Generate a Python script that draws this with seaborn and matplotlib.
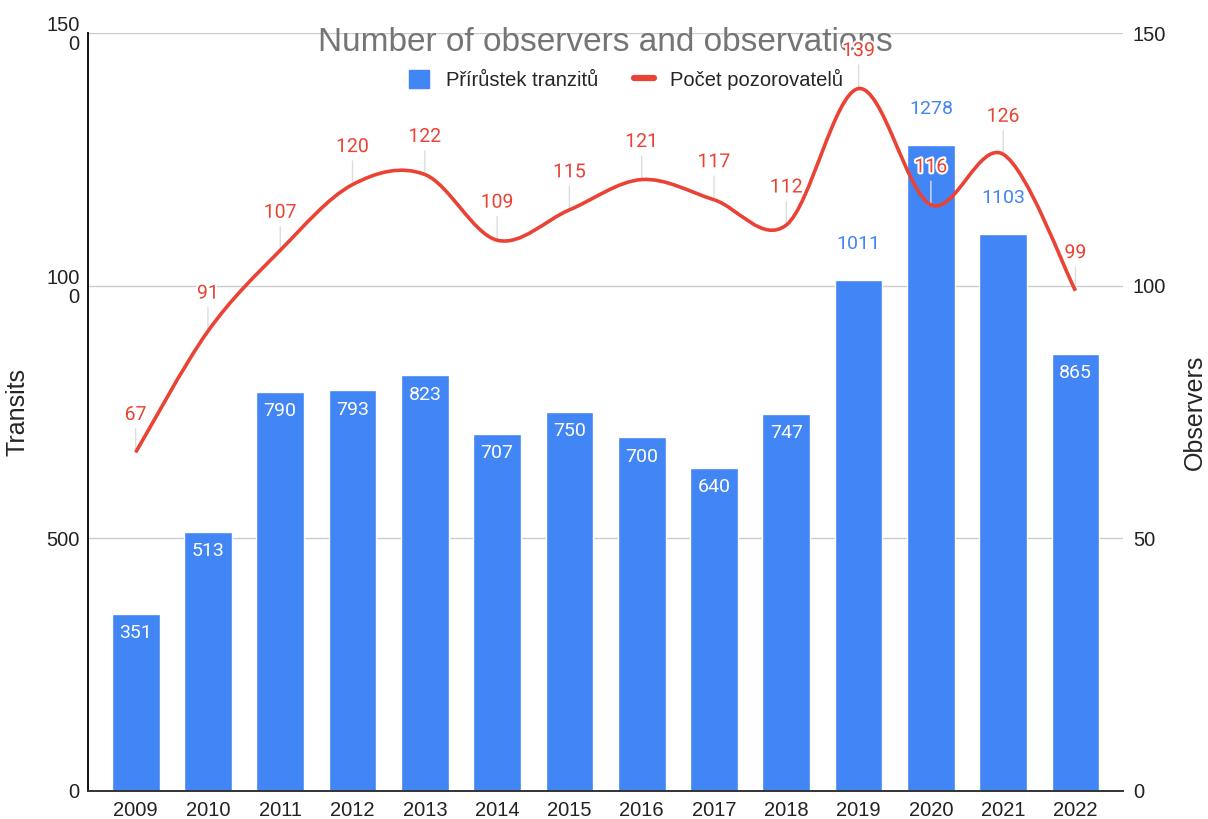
import numpy as np
import matplotlib
matplotlib.use("Agg")
import matplotlib.pyplot as plt
import seaborn as sns
from matplotlib.path import Path
from matplotlib.patches import PathPatch
from matplotlib.lines import Line2D
from matplotlib.patches import Patch
import matplotlib.patheffects as pe

years = ["2009", "2010", "2011", "2012", "2013", "2014", "2015",
         "2016", "2017", "2018", "2019", "2020", "2021", "2022"]
transits = [351, 513, 790, 793, 823, 707, 750, 700, 640, 747, 1011, 1278, 1103, 865]
observers = [67, 91, 107, 120, 122, 109, 115, 121, 117, 112, 139, 116, 126, 99]
left_ticks = [0, 500, 1000, 1500]
left_tick_labels = ["0", "500", "100\n0", "150\n0"]
right_ticks = [0, 50, 100, 150]

BLUE = "#4285F4"
RED = "#EA4335"

sns.set_style("white")
plt.rcParams["font.family"] = ["Liberation Sans", "DejaVu Sans"]

fig = plt.figure(figsize=(12.08, 8.19), dpi=100)
ax = fig.add_axes([0.0728, 0.0342, 0.857, 0.9255])

sns.barplot(x=years, y=transits, color=BLUE, width=0.66, saturation=1, ax=ax, zorder=2)
ax.set_xlim(-0.66, 13.66)
ax.set_ylim(0, 1500)
ax.set_yticks(left_ticks)
ax.set_yticklabels(left_tick_labels, linespacing=1.0)
ax.yaxis.grid(True, color="#cccccc", lw=1)
ax.set_axisbelow(True)
ax.tick_params(axis="both", length=0, labelsize=14.5, colors="#222222", pad=6)
ax.tick_params(axis="x", pad=7)
for s in ["top", "right"]:
    ax.spines[s].set_visible(False)
ax.spines["left"].set_color("#111111")
ax.spines["bottom"].set_color("#333333")
ax.spines["left"].set_linewidth(1.4)
ax.spines["bottom"].set_linewidth(1.4)
ax.set_xlabel("")
ax.set_ylabel("Transits", fontsize=18, labelpad=12)

# bar value labels
for i, v in enumerate(transits):
    if i in (10, 11, 12):
        ax.annotate(str(v), (i, v), xytext=(0, 26), textcoords="offset points",
                    ha="center", va="center", color=BLUE, fontsize=14,
                    family=["Roboto", "DejaVu Sans"])
    else:
        ax.annotate(str(v), (i, v), xytext=(0, -14), textcoords="offset points",
                    ha="center", va="center", color="white", fontsize=14,
                    family=["Roboto", "DejaVu Sans"], zorder=3)

ax2 = ax.twinx()
ax2.set_ylim(0, 150)
ax2.set_yticks(right_ticks)
ax2.tick_params(axis="y", length=0, labelsize=14.5, colors="#222222", pad=7)
for s in ["top", "right", "left", "bottom"]:
    ax2.spines[s].set_visible(False)
ax2.set_ylabel("Observers", fontsize=18, labelpad=12)

# smooth line (Catmull-Rom through data points)
pts = np.column_stack([np.arange(len(observers)), observers]).astype(float)
verts = [pts[0]]
codes = [Path.MOVETO]
n = len(pts)
for i in range(n - 1):
    p0 = pts[i - 1] if i > 0 else pts[i]
    p1 = pts[i]
    p2 = pts[i + 1]
    p3 = pts[i + 2] if i + 2 < n else pts[i + 1]
    c1 = p1 + (p2 - p0) / 6
    c2 = p2 - (p3 - p1) / 6
    verts += [c1, c2, p2]
    codes += [Path.CURVE4] * 3
ax2.add_patch(PathPatch(Path(verts, codes), fill=False, edgecolor=RED, lw=2.6,
                        capstyle="butt", zorder=3))

for i, v in enumerate(observers):
    ax2.annotate("", (i, v), xytext=(0, 17), textcoords="offset points",
                 arrowprops=dict(arrowstyle="-", color="#dddddd", lw=1,
                                 shrinkA=0, shrinkB=0), zorder=1)
    ax2.annotate(str(v), (i, v), xytext=(0, 27), textcoords="offset points",
                 ha="center", va="center", color=RED, fontsize=14,
                 family=["Roboto", "DejaVu Sans"], zorder=4,
                 path_effects=[pe.withStroke(linewidth=3, foreground="white")])

ax2.text(0.5, 0.988, "Number of observers and observations", transform=ax2.transAxes,
         ha="center", va="center", fontsize=24, color="#757575")

handles = [Patch(facecolor=BLUE, edgecolor=BLUE),
           Line2D([0], [0], color=RED, lw=4.5)]
ax2.legend(handles, ["Přírůstek tranzitů", "Počet pozorovatelů"], loc="center",
           bbox_to_anchor=(0.52, 0.939), ncol=2, frameon=False, fontsize=14.5,
           handlelength=1.0, handleheight=1.0, columnspacing=1.8, handletextpad=0.8)

fig.savefig("out.png", dpi=100)
